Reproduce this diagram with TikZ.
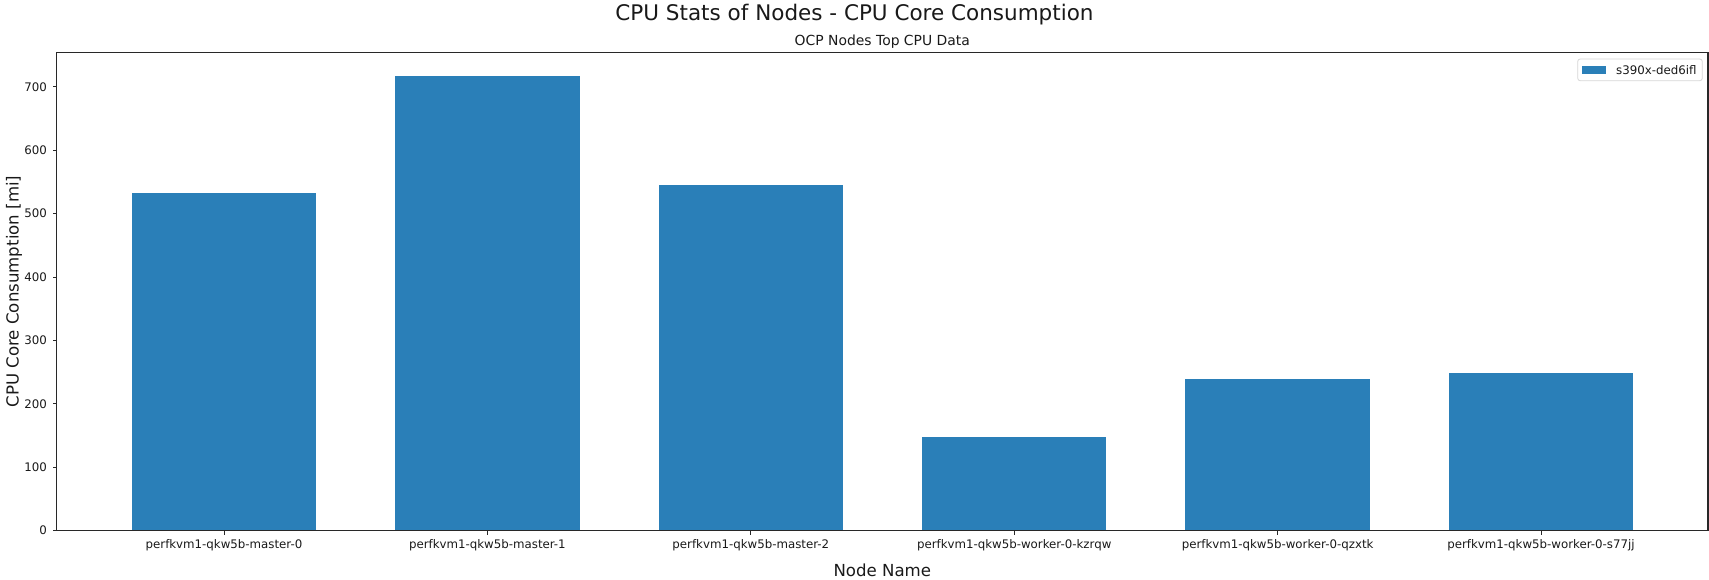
\documentclass[tikz,border=0pt]{standalone}
\usepackage{fontspec}
\setmainfont{DejaVu Sans}
\definecolor{barblue}{RGB}{42,127,184}
\definecolor{spinegray}{RGB}{40,40,40}
\definecolor{legendedge}{RGB}{214,214,214}
\begin{document}
\begin{tikzpicture}[x=1pt,y=-1pt,
  ticklabel/.style={font=\fontsize{11.8}{14}\selectfont, inner sep=0pt, text=black!90},
  axislabel/.style={font=\fontsize{16.6}{20}\selectfont, inner sep=0pt, text=black!90},
  suptitle/.style={font=\fontsize{21.5}{26}\selectfont, inner sep=0pt, text=black!90},
  axtitle/.style={font=\fontsize{13.9}{17}\selectfont, inner sep=0pt, text=black!90},
  spine/.style={draw=spinegray, line width=1.1pt},
  tickmark/.style={draw=spinegray, line width=0.9pt},
  bar/.style={fill=barblue},
  legendbox/.style={draw=legendedge, fill=white, line width=0.8pt, rounded corners=2.5pt}]
\useasboundingbox (0,0) rectangle (1709,580);

% plot area corners
\coordinate (tl) at (56.7,52.3);
\coordinate (br) at (1708,530.7);

% bars with their category ticks and labels
\foreach \i/\v/\lab in {0/532/perfkvm1-qkw5b-master-0,
                        1/717/perfkvm1-qkw5b-master-1,
                        2/545/perfkvm1-qkw5b-master-2,
                        3/148/perfkvm1-qkw5b-worker-0-kzrqw,
                        4/239/perfkvm1-qkw5b-worker-0-qzxtk,
                        5/249/perfkvm1-qkw5b-worker-0-s77jj} {
  \pgfmathsetmacro\cx{224+263.4*\i}
  \pgfmathsetmacro\ytopv{530.7-0.634*\v}
  \fill[bar] (\cx-92.2,530.7) rectangle (\cx+92.2,\ytopv);
  \coordinate (xtick\i) at (\cx,530.7);
  \coordinate (xtickend\i) at (\cx,534.7);
  \draw[tickmark] (xtick\i) -- (xtickend\i);
  \node[ticklabel, anchor=base] (xlab\i) at (\cx,548.7) {\lab};
}

% value axis ticks and labels
\foreach \v in {0,100,...,700} {
  \pgfmathsetmacro\yy{530.7-0.634*\v}
  \coordinate (ytick\v) at (56.7,\yy);
  \coordinate (ytickend\v) at (52.7,\yy);
  \draw[tickmark] (ytick\v) -- (ytickend\v);
  \node[ticklabel, anchor=east] (ylab\v) at (47,\yy) {\v};
}

% frame of the plot area
\draw[spine] (tl) rectangle (br);

% titles and axis labels
\node[suptitle, anchor=base] (suptitle) at (854.5,21) {CPU Stats of Nodes - CPU Core Consumption};
\node[axtitle, anchor=base] (axtitle) at (882.3,45.5) {OCP Nodes Top CPU Data};
\node[axislabel, anchor=base] (xname) at (882.3,576.3) {Node Name};
\node[axislabel, anchor=base, rotate=90] (yname) at (18.5,291.5) {CPU Core Consumption [mi]};

% legend
\draw[legendbox] (1577.7,59) rectangle (1702.3,80.7);
\fill[bar] (1582,65.9) rectangle (1605.6,74.1);
\node[ticklabel, anchor=base west] (legendtext) at (1616,74.3) {s390x-ded6ifl};
\end{tikzpicture}
\end{document}
